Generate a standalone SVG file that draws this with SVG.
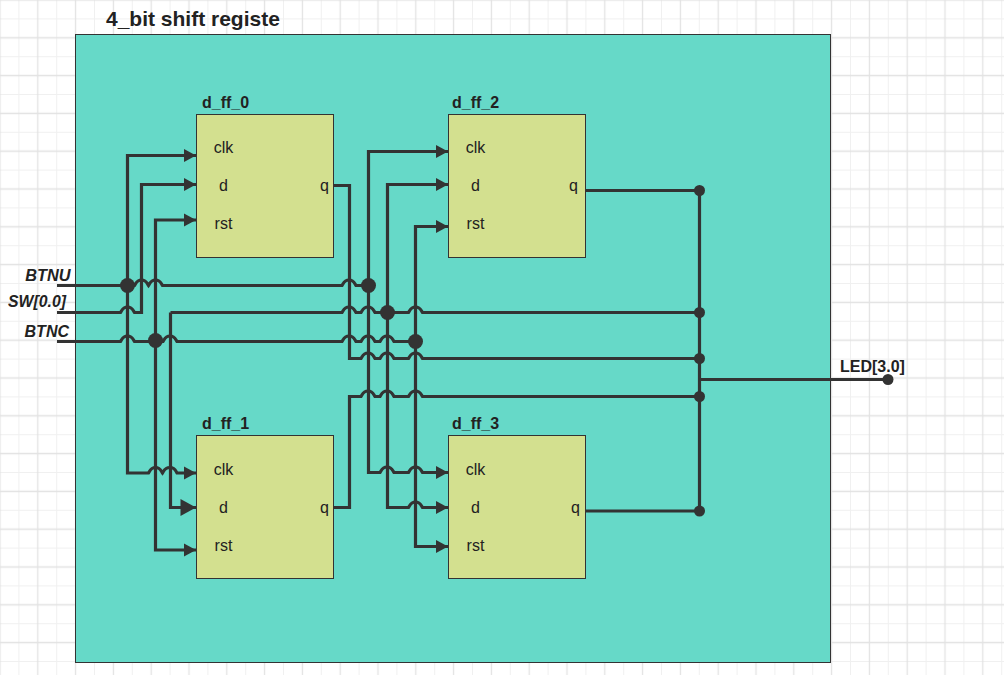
<svg xmlns="http://www.w3.org/2000/svg" width="1004" height="675" viewBox="0 0 1004 675">
<style>
.bg{fill:#fff}
.frame{fill:#66d9c8;stroke:#333;stroke-width:1}
.ff{fill:#d3e08f;stroke:#333;stroke-width:1}
.w{fill:none;stroke:#333;stroke-width:3.2}
.a{marker-end:url(#ah)}
.A{marker-end:url(#ahL)}
.dot{fill:#333}
text{font-family:"Liberation Sans",Arial,sans-serif;fill:#222}
.t{font-size:21px;font-weight:bold}
.n{font-size:16px;font-weight:bold}
.p{font-size:16px;text-anchor:middle}
.io{font-size:16px;font-weight:bold;font-style:italic;text-anchor:end}
</style>
<defs>
<pattern id="grid" patternUnits="userSpaceOnUse" width="37.8" height="37.8" patternTransform="translate(28.35 28.35)">
<path d="M28.35 0V37.8M0 28.35H37.8" fill="none" stroke="#f0f0f0" stroke-width="1"/>
<path d="M9.45 0V37.8M0 9.45H37.8" fill="none" stroke="#e2e2e2" stroke-width="1.3"/>
</pattern>
<marker id="ah" markerUnits="userSpaceOnUse" markerWidth="14" markerHeight="15" refX="12.500" refY="7.500" orient="auto"><path d="M.5 1L12.500 7.500L.5 14Z" fill="#333"/></marker>
<marker id="ahL" markerUnits="userSpaceOnUse" markerWidth="18" markerHeight="18" refX="16" refY="9" orient="auto"><path d="M.5 .5L16 9L.5 17.500Z" fill="#333"/></marker>
</defs>
<rect class="bg" width="1004" height="675"/>
<rect width="1004" height="675" fill="url(#grid)"/>
<rect class="frame" x="75.500" y="34.500" width="755" height="628"/>
<text class="t" x="106" y="26">4_bit shift registe</text>
<g id="connectors">
<path class="w a" d="M127.500 285V155.500H196"/>
<path class="w a" d="M127.500 285V473H148.500c1.500 -2 2 -5.500 7 -5.500s5.500 3.500 7 5.500c1.500 -2 2 -5.500 7.500 -5.500s5.500 3.500 7 5.500H196"/>
<path class="w" d="M57 285.500H134.500c1.500 -2 2 -5.500 7 -5.500s5.500 3.500 7 5.500c1.500 -2 2 -5.500 7 -5.500s5.500 3.500 7 5.500H342c1.500 -2 2 -5.500 7 -5.500s5.500 3.500 7 5.500H368"/>
<path class="w a" d="M57 312.500H120.500c1.500 -2 2 -5.500 7 -5.500s5.500 3.500 7 5.500H141.500V184.500H196"/>
<path class="w" d="M57 341.500H120.500c1.500 -2 2 -5.500 7 -5.500s5.500 3.500 7 5.500H163c1.500 -2 2 -5.500 7 -5.500s5.500 3.500 7 5.500H342c1.500 -2 2 -5.500 7 -5.500s5.500 3.500 7 5.500H361c1.500 -2 2 -5.500 7 -5.500s5.500 3.500 7 5.500H380c1.500 -2 2 -5.500 7 -5.500s5.500 3.500 7 5.500H415.500"/>
<path class="w a" d="M155.500 341V220H196"/>
<path class="w a" d="M155.500 341V550H196"/>
<path class="w" d="M333 185.500H349.500V358.500H361c1.500 -2 2 -5.500 7 -5.500s5.500 3.500 7 5.500H380c1.500 -2 2 -5.500 7 -5.500s5.500 3.500 7 5.500H408.500c1.500 -2 2 -5.500 7 -5.500s5.500 3.500 7 5.500H699"/>
<path class="w" d="M333 507.500H349.500V396.500H361c1.500 -2 2 -5.500 7 -5.500s5.500 3.500 7 5.500H380c1.500 -2 2 -5.500 7 -5.500s5.500 3.500 7 5.500H408.500c1.500 -2 2 -5.500 7 -5.500s5.500 3.500 7 5.500H699"/>
<path class="w A" d="M170.500 312.500V507.500H196"/>
<path class="w" d="M170.500 312.500H342c1.500 -2 2 -5.500 7 -5.500s5.500 3.500 7 5.500H361c1.500 -2 2 -5.500 7 -5.500s5.500 3.500 7 5.500H408.500c1.500 -2 2 -5.500 7 -5.500s5.500 3.500 7 5.500H699"/>
<path class="w a" d="M368.500 285V151.500H448"/>
<path class="w a" d="M368.500 285V472.500H380c1.500 -2 2 -5.500 7 -5.500s5.500 3.500 7 5.500H408.500c1.500 -2 2 -5.500 7 -5.500s5.500 3.500 7 5.500H448"/>
<path class="w a" d="M387.500 312V184.500H448"/>
<path class="w a" d="M387.500 312V507.500H408.500c1.500 -2 2 -5.500 7 -5.500s5.500 3.500 7 5.500H448"/>
<path class="w a" d="M415.500 341V226.500H448"/>
<path class="w a" d="M415.500 341V546.500H448"/>
<path class="w" d="M585 190.500H699.500V511H585"/>
<path class="w" d="M699.500 379.500H888"/>
<circle class="dot" cx="127.500" cy="285.500" r="7.500"/>
<circle class="dot" cx="368.500" cy="285.500" r="7.500"/>
<circle class="dot" cx="387.500" cy="312.500" r="7.500"/>
<circle class="dot" cx="155.500" cy="340.500" r="7.500"/>
<circle class="dot" cx="415.500" cy="341.500" r="7.500"/>
<circle class="dot" cx="699.500" cy="190.500" r="5.500"/>
<circle class="dot" cx="699.500" cy="312.500" r="5.500"/>
<circle class="dot" cx="699.500" cy="358.500" r="5.500"/>
<circle class="dot" cx="699.500" cy="396.500" r="5.500"/>
<circle class="dot" cx="699.500" cy="511" r="5.500"/>
<circle class="dot" cx="888" cy="379.500" r="5.500"/>
</g>
<g id="d_ff_0">
<rect class="ff" x="196.500" y="114.500" width="137" height="143"/>
<text class="n" x="202" y="108">d_ff_0</text>
<text class="p" x="223.500" y="153">clk</text><text class="p" x="223.500" y="191">d</text><text class="p" x="223.500" y="229">rst</text><text class="p" x="324.500" y="191">q</text>
</g>
<g id="d_ff_1">
<rect class="ff" x="196.500" y="435.500" width="137" height="143"/>
<text class="n" x="202" y="429">d_ff_1</text>
<text class="p" x="223.500" y="475">clk</text><text class="p" x="223.500" y="513">d</text><text class="p" x="223.500" y="551">rst</text><text class="p" x="324.500" y="513">q</text>
</g>
<g id="d_ff_2">
<rect class="ff" x="448.500" y="114.500" width="137" height="143"/>
<text class="n" x="452" y="108">d_ff_2</text>
<text class="p" x="475.500" y="153">clk</text><text class="p" x="475.500" y="191">d</text><text class="p" x="475.500" y="229">rst</text><text class="p" x="573.500" y="191">q</text>
</g>
<g id="d_ff_3">
<rect class="ff" x="448.500" y="435.500" width="137" height="143"/>
<text class="n" x="452" y="429">d_ff_3</text>
<text class="p" x="475.500" y="475">clk</text><text class="p" x="475.500" y="513">d</text><text class="p" x="475.500" y="551">rst</text><text class="p" x="575.500" y="513">q</text>
</g>
<g id="BTNU"><text class="io" x="70.500" y="281" style="font-size:16.3px">BTNU</text></g>
<g id="SW"><text class="io" x="66" y="307" style="font-size:15.800px">SW[0.0]</text></g>
<g id="BTNC"><text class="io" x="69" y="337">BTNC</text></g>
<g id="LED"><text x="840" y="372" style="font-size:16px;font-weight:bold">LED[3.0]</text></g>
</svg>
